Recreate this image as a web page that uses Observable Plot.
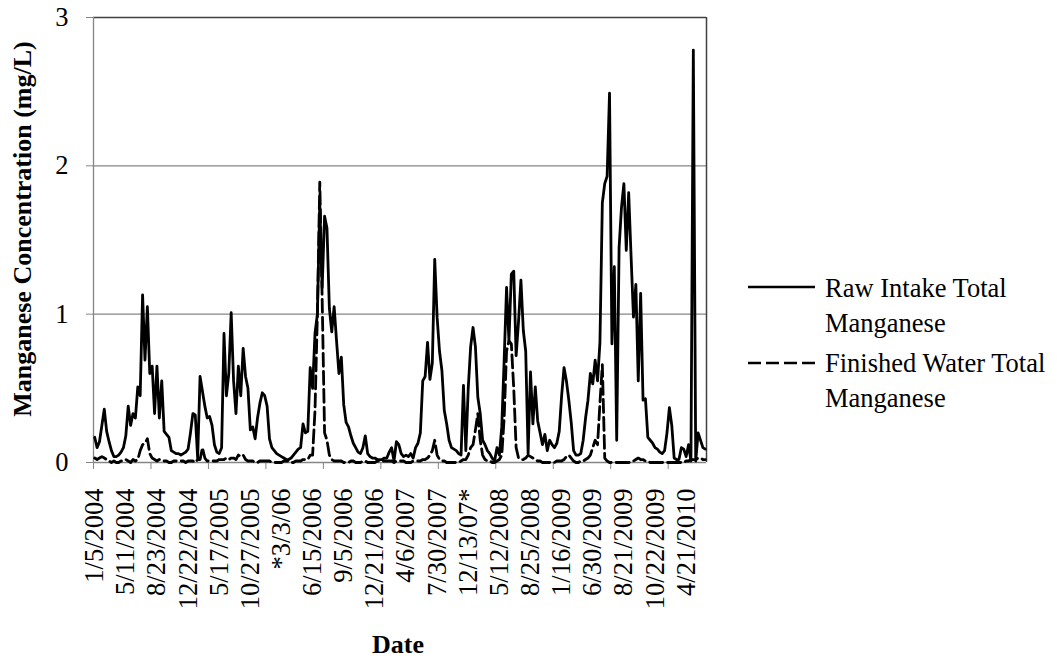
<!DOCTYPE html>
<html>
<head>
<meta charset="utf-8">
<script src="https://cdn.jsdelivr.net/npm/d3@7"></script>
<script src="https://cdn.jsdelivr.net/npm/@observablehq/plot@0.6"></script>
<style>
  html, body { margin: 0; padding: 0; background: #fff; }
  #wrap { position: relative; width: 1057px; height: 658px; font-family: "Liberation Serif", "Times New Roman", serif; color: #000; }
  #chart { position: absolute; left: 0; top: 0; }
  .ylab { position: absolute; left: 23px; top: 229px; transform: translate(-50%, -50%) rotate(-90deg); font-weight: bold; font-size: 26px; white-space: nowrap; }
  .xlab { position: absolute; left: 398px; top: 645px; transform: translate(-50%, -50%); font-weight: bold; font-size: 26px; white-space: nowrap; }
  .leg { position: absolute; left: 825px; font-size: 26.5px; line-height: 35px; white-space: nowrap; }
  .sw { position: absolute; left: 748px; }
</style>
</head>
<body>
<div id="wrap">
  <div id="chart"></div>
  <div class="ylab">Manganese Concentration (mg/L)</div>
  <div class="xlab">Date</div>
  <svg class="sw" style="top:282px" width="68" height="10"><line x1="0" x2="67" y1="5" y2="5" stroke="#000" stroke-width="2.5"/></svg>
  <div class="leg" style="top:271px">Raw Intake Total<br>Manganese</div>
  <svg class="sw" style="top:358px" width="68" height="10"><line x1="0" x2="67" y1="5" y2="5" stroke="#000" stroke-width="2.5" stroke-dasharray="13,5"/></svg>
  <div class="leg" style="top:346px">Finished Water Total<br>Manganese</div>
</div>
<script>
// Series names
const seriesNames = ["Raw Intake Total Manganese", "Finished Water Total Manganese"];

// Raw intake total manganese (mg/L), one value per sample (category index)
const rawMn = [
  0.17, 0.10, 0.14, 0.25, 0.36, 0.21, 0.14, 0.08, 0.04, 0.04,
  0.05, 0.07, 0.10, 0.18, 0.38, 0.25, 0.33, 0.30, 0.51, 0.45,
  1.13, 0.69, 1.05, 0.60, 0.65, 0.33, 0.65, 0.30, 0.55, 0.21,
  0.19, 0.17, 0.08, 0.07, 0.06, 0.06, 0.05, 0.06, 0.07, 0.09,
  0.20, 0.33, 0.32, 0.03, 0.58, 0.48, 0.38, 0.30, 0.31, 0.25,
  0.12, 0.07, 0.06, 0.10, 0.87, 0.45, 0.60, 1.01, 0.55, 0.33,
  0.65, 0.45, 0.77, 0.58, 0.50, 0.22, 0.24, 0.16, 0.30, 0.40,
  0.47, 0.45, 0.38, 0.16, 0.10, 0.08, 0.06, 0.05, 0.04, 0.03,
  0.02, 0.02, 0.03, 0.05, 0.07, 0.09, 0.10, 0.26, 0.20, 0.21,
  0.64, 0.50, 0.87, 1.00, 1.74, 1.18, 1.66, 1.58, 1.04, 0.88,
  1.05, 0.82, 0.60, 0.71, 0.39, 0.27, 0.24, 0.18, 0.13, 0.10,
  0.07, 0.06, 0.10, 0.18, 0.06, 0.04, 0.03, 0.03, 0.02, 0.02,
  0.02, 0.03, 0.03, 0.07, 0.10, 0.01, 0.14, 0.12, 0.06, 0.04,
  0.05, 0.04, 0.06, 0.03, 0.10, 0.13, 0.20, 0.55, 0.58, 0.81,
  0.56, 0.67, 1.37, 0.98, 0.75, 0.62, 0.35, 0.26, 0.15, 0.10,
  0.09, 0.08, 0.06, 0.05, 0.52, 0.08, 0.50, 0.78, 0.91, 0.78,
  0.44, 0.33, 0.15, 0.12, 0.08, 0.06, 0.03, 0.01, 0.10, 0.05,
  0.24, 0.69, 1.18, 0.82, 1.27, 1.29, 0.72, 0.95, 1.23, 0.89,
  0.75, 0.06, 0.61, 0.26, 0.51, 0.28, 0.20, 0.12, 0.19, 0.08,
  0.15, 0.12, 0.10, 0.13, 0.21, 0.45, 0.64, 0.55, 0.42, 0.27,
  0.08, 0.05, 0.05, 0.06, 0.15, 0.30, 0.42, 0.60, 0.53, 0.69,
  0.55, 0.81, 1.75, 1.88, 1.93, 2.49, 0.80, 1.32, 0.15, 1.45,
  1.72, 1.88, 1.43, 1.82, 1.39, 0.98, 1.20, 0.55, 1.14, 0.42,
  0.43, 0.17, 0.15, 0.13, 0.10, 0.09, 0.07, 0.06, 0.08, 0.20,
  0.37, 0.25, 0.03, 0.02, 0.02, 0.10, 0.09, 0.04, 0.12, 0.01,
  2.78, 0.01, 0.20, 0.15, 0.10, 0.09
];

// Finished water total manganese (mg/L)
const finishedMn = [
  0.03, 0.02, 0.03, 0.04, 0.03, 0.02, 0.01, 0.00, 0.01, 0.00,
  0.00, 0.01, 0.01, 0.02, 0.01, 0.00, 0.02, 0.01, 0.02, 0.08,
  0.12, 0.13, 0.16, 0.06, 0.03, 0.02, 0.01, 0.02, 0.01, 0.01,
  0.01, 0.00, 0.00, 0.01, 0.01, 0.01, 0.01, 0.01, 0.00, 0.01,
  0.01, 0.01, 0.00, 0.02, 0.02, 0.10, 0.03, 0.01, 0.01, 0.01,
  0.01, 0.01, 0.02, 0.02, 0.02, 0.03, 0.02, 0.03, 0.03, 0.02,
  0.05, 0.04, 0.05, 0.02, 0.01, 0.01, 0.01, 0.00, 0.00, 0.01,
  0.01, 0.01, 0.01, 0.01, 0.00, 0.00, 0.00, 0.00, 0.00, 0.01,
  0.01, 0.01, 0.00, 0.00, 0.01, 0.01, 0.01, 0.02, 0.02, 0.02,
  0.05, 0.05, 0.35, 1.00, 1.89, 1.10, 0.20, 0.15, 0.05, 0.02,
  0.01, 0.01, 0.01, 0.01, 0.00, 0.00, 0.00, 0.01, 0.01, 0.00,
  0.00, 0.00, 0.01, 0.01, 0.00, 0.00, 0.00, 0.00, 0.01, 0.01,
  0.01, 0.01, 0.01, 0.01, 0.01, 0.00, 0.01, 0.01, 0.01, 0.01,
  0.00, 0.00, 0.00, 0.01, 0.01, 0.01, 0.01, 0.02, 0.02, 0.03,
  0.05, 0.08, 0.15, 0.05, 0.02, 0.01, 0.01, 0.00, 0.00, 0.00,
  0.00, 0.00, 0.00, 0.01, 0.02, 0.02, 0.05, 0.10, 0.12, 0.22,
  0.33, 0.15, 0.05, 0.02, 0.01, 0.01, 0.00, 0.00, 0.01, 0.02,
  0.05, 0.30, 0.75, 0.82, 0.80, 0.50, 0.10, 0.03, 0.02, 0.02,
  0.03, 0.05, 0.04, 0.03, 0.02, 0.01, 0.01, 0.00, 0.00, 0.00,
  0.00, 0.00, 0.00, 0.01, 0.01, 0.01, 0.02, 0.04, 0.05, 0.03,
  0.01, 0.00, 0.00, 0.01, 0.01, 0.02, 0.03, 0.05, 0.10, 0.15,
  0.12, 0.40, 0.66, 0.03, 0.01, 0.00, 0.00, 0.00, 0.00, 0.00,
  0.00, 0.00, 0.00, 0.00, 0.00, 0.01, 0.02, 0.03, 0.02, 0.02,
  0.01, 0.01, 0.00, 0.00, 0.00, 0.00, 0.00, 0.00, 0.00, 0.00,
  0.00, 0.00, 0.00, 0.00, 0.00, 0.00, 0.00, 0.01, 0.01, 0.02,
  0.02, 0.02, 0.03, 0.03, 0.02, 0.02
];

// Category-axis tick labels (shown every 13th sample)
const xLabels = ["1/5/2004", "5/11/2004", "8/23/2004", "12/22/2004", "5/17/2005", "10/27/2005",
  "*3/3/06", "6/15/2006", "9/5/2006", "12/21/2006", "4/6/2007", "7/30/2007", "12/13/07*",
  "5/12/2008", "8/25/2008", "1/16/2009", "6/30/2009", "8/21/2009", "10/22/2009", "4/21/2010"];
const labelEvery = 13;
const tickEvery = 24;

// Value-axis ticks
const yTicks = [0, 1, 2, 3];

const n = rawMn.length;
const labelIdx = xLabels.map((_, k) => k * labelEvery);
const tickIdx = d3.range(-0.5, n, tickEvery);
const gray = "#868686";

const chart = Plot.plot({
  width: 1057,
  height: 658,
  marginLeft: 93,
  marginRight: 351,
  marginTop: 17,
  marginBottom: 196,
  style: { fontFamily: "'Liberation Serif', 'Times New Roman', serif", fontSize: "26.5px", color: "#000", background: "transparent", overflow: "visible" },
  x: { domain: [-0.5, n - 0.5] },
  y: { domain: [0, 3] },
  marks: [
    Plot.ruleY(yTicks.filter(v => v > 0 && v < 3), { stroke: gray, strokeWidth: 1.3 }),
    Plot.ruleY([d3.max(yTicks)], { stroke: "#404040", strokeWidth: 1.5 }),
    Plot.ruleX([n - 0.5], { stroke: "#404040", strokeWidth: 1.5 }),
    Plot.ruleX([-0.5], { stroke: gray, strokeWidth: 1.3 }),
    Plot.ruleY([0], { stroke: gray, strokeWidth: 1.3 }),
    Plot.axisY(yTicks, { tickSize: 7, tickPadding: 18, stroke: gray, fill: "#000", label: null, tickFormat: d3.format("d") }),
    Plot.axisX(tickIdx, { tickSize: 7, stroke: gray, tickFormat: () => "", label: null }),
    Plot.axisX(labelIdx, { tickSize: 0, tickPadding: 26, tickRotate: -90, fill: "#000", label: null, tickFormat: i => xLabels[i / labelEvery] }),
    Plot.lineY(rawMn, { stroke: "#000", strokeWidth: 2.8, strokeLinejoin: "round", title: () => seriesNames[0] }),
    Plot.lineY(finishedMn, { stroke: "#000", strokeWidth: 2.8, strokeDasharray: "13,5", title: () => seriesNames[1] })
  ]
});
document.getElementById("chart").appendChild(chart);
</script>
</body>
</html>
